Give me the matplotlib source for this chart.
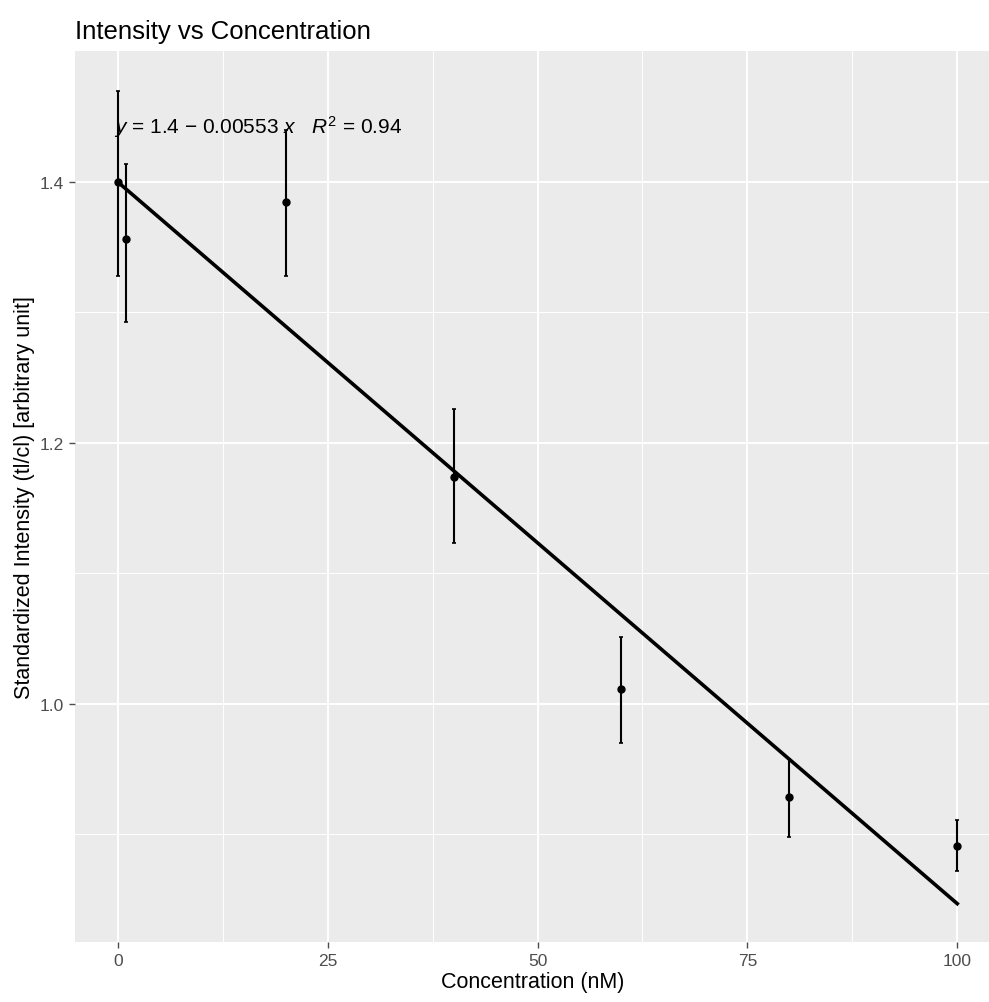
import matplotlib
matplotlib.use("Agg")
import matplotlib.pyplot as plt
import numpy as np

plt.rcParams['font.family'] = ['Liberation Sans', 'DejaVu Sans']
plt.rcParams['mathtext.fontset'] = 'custom'
plt.rcParams['mathtext.it'] = 'Liberation Sans:italic'
plt.rcParams['mathtext.rm'] = 'Liberation Sans'

# Data
concentration = [0, 1, 20, 40, 60, 80, 100]
intensity = [1.400, 1.356, 1.385, 1.174, 1.0115, 0.929, 0.891]
err_low = [1.328, 1.293, 1.328, 1.123, 0.970, 0.898, 0.872]
err_high = [1.470, 1.414, 1.440, 1.226, 1.051, 0.958, 0.911]
fit_intercept = 1.4
fit_slope = -0.00553
r_squared = 0.94
x_ticks = [0, 25, 50, 75, 100]
y_ticks = [1.0, 1.2, 1.4]
y_ticklabels = ["1.0", "1.2", "1.4"]

fig = plt.figure(figsize=(9.89, 10.03), dpi=100)
ax = fig.add_axes([0.0758, 0.0598, 0.9252, 0.8884])
ax.set_facecolor('#EBEBEB')
for s in ax.spines.values():
    s.set_visible(False)

ax.set_xlim(-5.1, 103.9)
ax.set_ylim(0.8176, 1.5004)

ax.set_xticks(x_ticks)
ax.set_yticks(y_ticks)
ax.set_yticklabels(y_ticklabels)
ax.set_xticks([12.5, 37.5, 62.5, 87.5], minor=True)
ax.set_yticks([0.9, 1.1, 1.3], minor=True)
ax.grid(which='major', color='white', lw=1.4)
ax.grid(which='minor', color='white', lw=0.7)
ax.set_axisbelow(True)
ax.tick_params(which='major', colors='#4D4D4D', labelsize=12.5, length=4, width=1.0, pad=4)
ax.tick_params(which='minor', length=0)

# error bars and points
yerr = [np.array(intensity) - np.array(err_low), np.array(err_high) - np.array(intensity)]
ax.errorbar(concentration, intensity, yerr=yerr, fmt='o', color='black', ms=5,
            elinewidth=1.5, capsize=1.5, capthick=1.2, zorder=3)

# regression line
xs = np.linspace(min(concentration), max(concentration), 100)
ax.plot(xs, fit_intercept + fit_slope * xs, color='black', lw=2.6, zorder=4)

ax.text(-0.4, 1.443,
        r"$y$ = 1.4 $-$ 0.00553 $x$   $R^2$ = %.2f" % r_squared,
        ha='left', va='center', fontsize=15, color='black', zorder=5)

ax.set_xlabel("Concentration (nM)", fontsize=15.5, labelpad=2)
ax.set_ylabel("Standardized Intensity (tl/cl) [arbitrary unit]", fontsize=15.5, labelpad=3)
fig.text(0.0758, 0.968, "Intensity vs Concentration", fontsize=18.5, ha='left', va='center')

fig.savefig("out.png", dpi=100)
